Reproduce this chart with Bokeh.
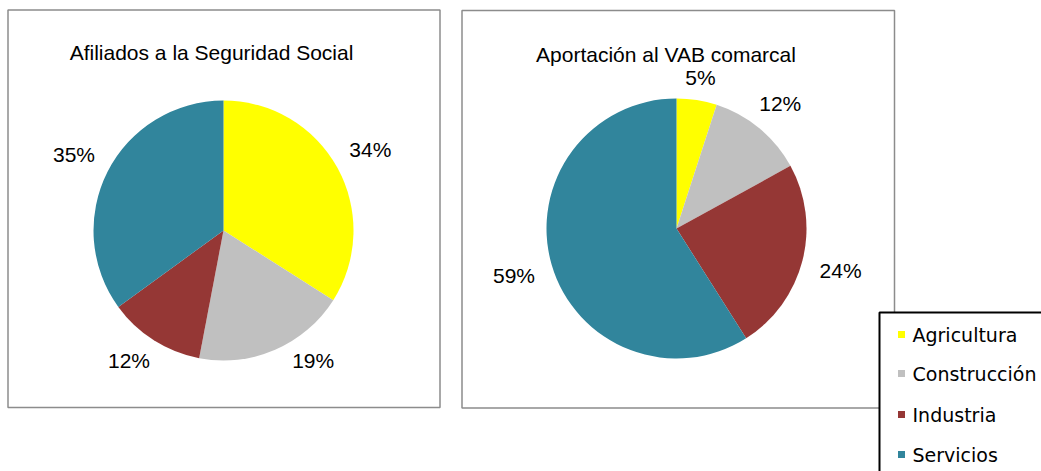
import math
from bokeh.plotting import figure
from bokeh.models import Range1d, ColumnDataSource
from bokeh.core.properties import value
from bokeh.embed import file_html
from bokeh.resources import INLINE

# ---- data ----
categories = ["Agricultura", "Construcción", "Industria", "Servicios"]
afiliados = [34, 19, 12, 35]
vab = [5, 12, 24, 59]
titles = ["Afiliados a la Seguridad Social", "Aportación al VAB comarcal"]
colors = ["#FFFF00", "#C0C0C0", "#953735", "#31859C"]

# ---- layout (screen pixels, top-down) ----
W, H = 1041, 471
FONT = "Liberation Sans"


def sy(y):
    # screen y (top-down) -> data y (bottom-up)
    return H - y


p = figure(width=W, height=H, x_range=Range1d(0, W), y_range=Range1d(0, H),
           output_backend="svg", toolbar_location=None, min_border=0,
           x_axis_type=None, y_axis_type=None)
p.grid.visible = False
p.outline_line_color = None
p.background_fill_color = "white"

panels = [
    dict(left=7.5, right=439.5, top=9.5, bottom=407.0, cx=223, cy=230, r=130,
         tx=211, ty=52, vals=afiliados, title=titles[0]),
    dict(left=461.5, right=894.0, top=10.0, bottom=407.5, cx=676, cy=228, r=130,
         tx=665.5, ty=54, vals=vab, title=titles[1]),
]

for pn in panels:
    # panel border
    p.quad(left=[pn["left"]], right=[pn["right"]], top=[sy(pn["top"])], bottom=[sy(pn["bottom"])],
           fill_color=None, line_color="#8c8c8c", line_width=1.5)

    vals = pn["vals"]
    total = float(sum(vals))
    cum = [0.0]
    for v in vals:
        cum.append(cum[-1] + v / total)
    starts = [math.pi / 2 - 2 * math.pi * cum[i + 1] for i in range(len(vals))]
    ends = [math.pi / 2 - 2 * math.pi * cum[i] for i in range(len(vals))]
    src = ColumnDataSource(dict(start=starts, end=ends, color=colors, cat=categories))
    p.wedge(x=pn["cx"], y=sy(pn["cy"]), radius=pn["r"], start_angle="start", end_angle="end",
            fill_color="color", line_color=None, source=src)

    # labels outside the slices
    lx, ly, lt = [], [], []
    for i, v in enumerate(vals):
        th = 2 * math.pi * (cum[i] + cum[i + 1]) / 2  # clockwise from 12 o'clock
        d = pn["r"] + 20 + 20 * abs(math.sin(th))
        x = pn["cx"] + d * math.sin(th)
        y = pn["cy"] - d * math.cos(th)
        ymax = pn["cy"] + pn["r"]
        if y > ymax:
            dy = ymax - pn["cy"]
            dx = math.sqrt(max(d * d - dy * dy, 0))
            x = pn["cx"] + math.copysign(dx, math.sin(th))
            y = ymax
        lx.append(x)
        ly.append(sy(y))
        lt.append(f"{v}%")
    p.text(x=lx, y=ly, text=lt, text_font=value(FONT), text_font_size=value("21px"),
           text_align="center", text_baseline="middle", text_color="black")

    p.text(x=[pn["tx"]], y=[sy(pn["ty"])], text=[pn["title"]], text_font=value(FONT),
           text_font_size=value("21px"), text_align="center", text_baseline="alphabetic",
           text_color="black")

# ---- legend ----
p.quad(left=[879], right=[1060], top=[sy(312)], bottom=[sy(480)],
       fill_color="white", line_color="black", line_width=2)
row_y = [334, 373, 414, 454]
p.rect(x=[901] * 4, y=[sy(v) for v in row_y], width=7, height=7,
       fill_color=colors, line_color=None)
p.text(x=[912] * 4, y=[sy(v) for v in row_y], text=categories, text_font=value("DejaVu Sans"),
       text_font_size=value("19px"), text_align="left", text_baseline="middle",
       text_color="black")

open("out.html", "w").write(file_html(p, INLINE))
